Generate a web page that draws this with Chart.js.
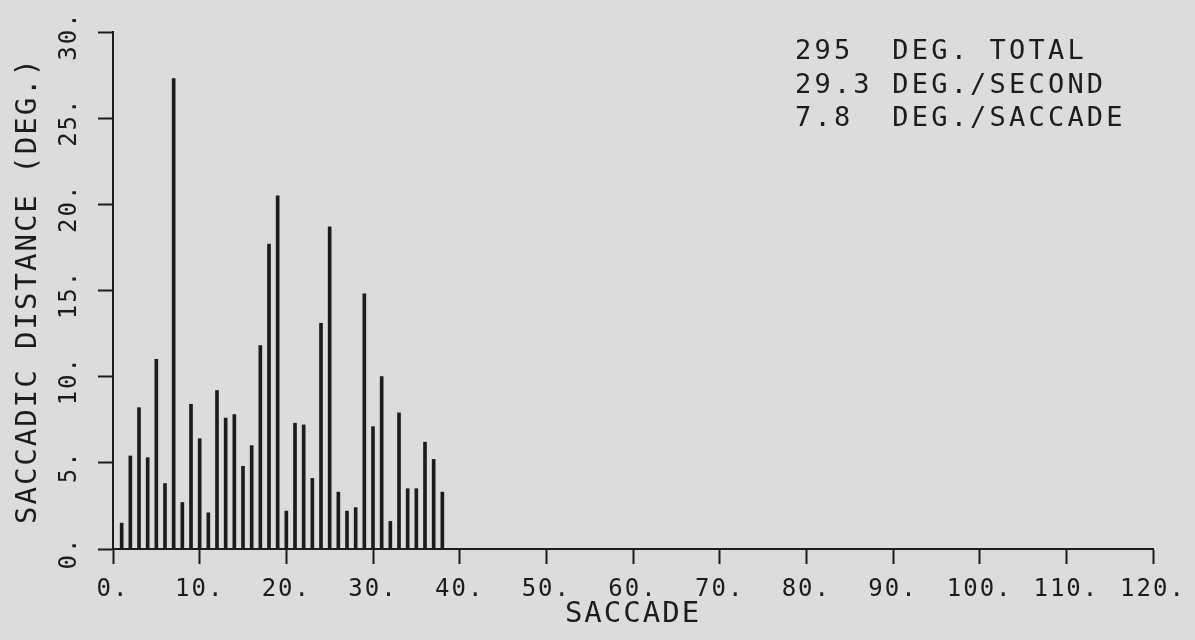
<!DOCTYPE html>
<html>
<head>
<meta charset="utf-8">
<script src="https://cdn.jsdelivr.net/npm/chart.js@4/dist/chart.umd.min.js"></script>
<style>
  html, body { margin: 0; padding: 0; background: #dcdcdc; }
  #wrap { width: 1195px; height: 640px; position: relative; }
</style>
</head>
<body>
<div id="wrap"><canvas id="c" width="1195" height="640"></canvas></div>
<script>
// ---- data ----
const saccades = [1,2,3,4,5,6,7,8,9,10,11,12,13,14,15,16,17,18,19,20,21,22,23,24,25,26,27,28,29,30,31,32,33,34,35,36,37,38];
const distances = [1.5,5.4,8.2,5.3,11.0,3.8,27.3,2.7,8.4,6.4,2.1,9.2,7.6,7.8,4.8,6.0,11.8,17.7,20.5,
                   2.2,7.3,7.2,4.1,13.1,18.7,3.3,2.2,2.4,14.8,7.1,10.0,1.6,7.9,3.5,3.5,6.2,5.2,3.3];
const xTickValues = [0,10,20,30,40,50,60,70,80,90,100,110,120];
const xTickLabels = ['0.','10.','20.','30.','40.','50.','60.','70.','80.','90.','100.','110.','120.'];
const yTickValues = [0,5,10,15,20,25,30];
const yTickLabels = ['0.','5.','10.','15.','20.','25.','30.'];
const xTitle = 'SACCADE';
const yTitle = 'SACCADIC DISTANCE (DEG.)';
const summaryLines = ['295  DEG. TOTAL', '29.3 DEG./SECOND', '7.8  DEG./SACCADE'];

// ---- styling ----
const INK = '#1c1c1c';
const BG = '#dcdcdc';
const FONT = "'DejaVu Sans Mono', monospace";
const SPACING = '2px';

const spacingPlugin = {
  id: 'spacing',
  beforeUpdate(c) { c.ctx.letterSpacing = SPACING; },
  beforeLayout(c) { c.ctx.letterSpacing = SPACING; },
  beforeDraw(c) {
    const ctx = c.ctx;
    ctx.save();
    ctx.fillStyle = BG;
    ctx.fillRect(0, 0, c.width, c.height);
    ctx.restore();
    ctx.letterSpacing = SPACING;
  }
};

const yLabelsPlugin = {
  id: 'yLabels',
  afterDraw(c) {
    const ctx = c.ctx, ys = c.scales.y;
    ctx.save();
    ctx.letterSpacing = SPACING;
    ctx.font = '24px ' + FONT;
    ctx.fillStyle = INK;
    ctx.textAlign = 'center';
    ctx.textBaseline = 'middle';
    yTickValues.forEach((v, i) => {
      const py = ys.getPixelForValue(v);
      ctx.save();
      ctx.translate(ys.right - 43, py + 4);
      ctx.rotate(-Math.PI / 2);
      ctx.fillText(yTickLabels[i], 0, 0);
      ctx.restore();
    });
    ctx.restore();
  }
};

const summaryPlugin = {
  id: 'summary',
  afterDraw(c) {
    const ctx = c.ctx;
    ctx.save();
    ctx.letterSpacing = '3.2px';
    ctx.font = '27px ' + FONT;
    ctx.fillStyle = INK;
    ctx.textAlign = 'left';
    ctx.textBaseline = 'alphabetic';
    const x0 = c.chartArea.right - 358;
    const baselines = [59, 93, 126];
    summaryLines.forEach((t, i) => ctx.fillText(t, x0, baselines[i]));
    ctx.restore();
  }
};

new Chart(document.getElementById('c'), {
  type: 'bar',
  data: {
    datasets: [{
      data: saccades.map((s, i) => ({ x: s, y: distances[i] })),
      backgroundColor: INK,
      borderWidth: 0,
      barThickness: 3
    }]
  },
  options: {
    responsive: false,
    devicePixelRatio: 1,
    animation: false,
    layout: { padding: { top: 32, right: 42, left: 0, bottom: 0 } },
    plugins: { legend: { display: false }, tooltip: { enabled: false } },
    scales: {
      x: {
        type: 'linear',
        offset: false,
        min: 0, max: 120,
        afterBuildTicks: s => { s.ticks = xTickValues.map(v => ({ value: v })); },
        afterFit: s => { s.height = 91; s.paddingLeft = 0; s.paddingRight = 0; },
        ticks: {
          callback: v => xTickLabels[xTickValues.indexOf(v)],
          font: { family: FONT, size: 24 },
          color: INK,
          maxRotation: 0, minRotation: 0,
          autoSkip: false,
          padding: 11
        },
        grid: { offset: false, drawOnChartArea: false, drawTicks: true, tickLength: 15, tickColor: INK, tickWidth: 2 },
        border: { color: INK, width: 2 },
        title: {
          display: true, text: xTitle, color: INK,
          font: { family: FONT, size: 29 },
          padding: { top: 0, bottom: 8 }
        }
      },
      y: {
        min: 0, max: 30,
        afterBuildTicks: s => { s.ticks = yTickValues.map(v => ({ value: v })); },
        afterFit: s => { s.width = 113; s.paddingTop = 0; s.paddingBottom = 0; },
        ticks: { display: false },
        grid: { drawOnChartArea: false, drawTicks: true, tickLength: 15, tickColor: INK, tickWidth: 2 },
        border: { color: INK, width: 2 },
        title: {
          display: true, text: yTitle, color: INK,
          font: { family: FONT, size: 29 },
          padding: { top: 11, bottom: 0 }
        }
      }
    }
  },
  plugins: [spacingPlugin, yLabelsPlugin, summaryPlugin]
});
</script>
</body>
</html>
